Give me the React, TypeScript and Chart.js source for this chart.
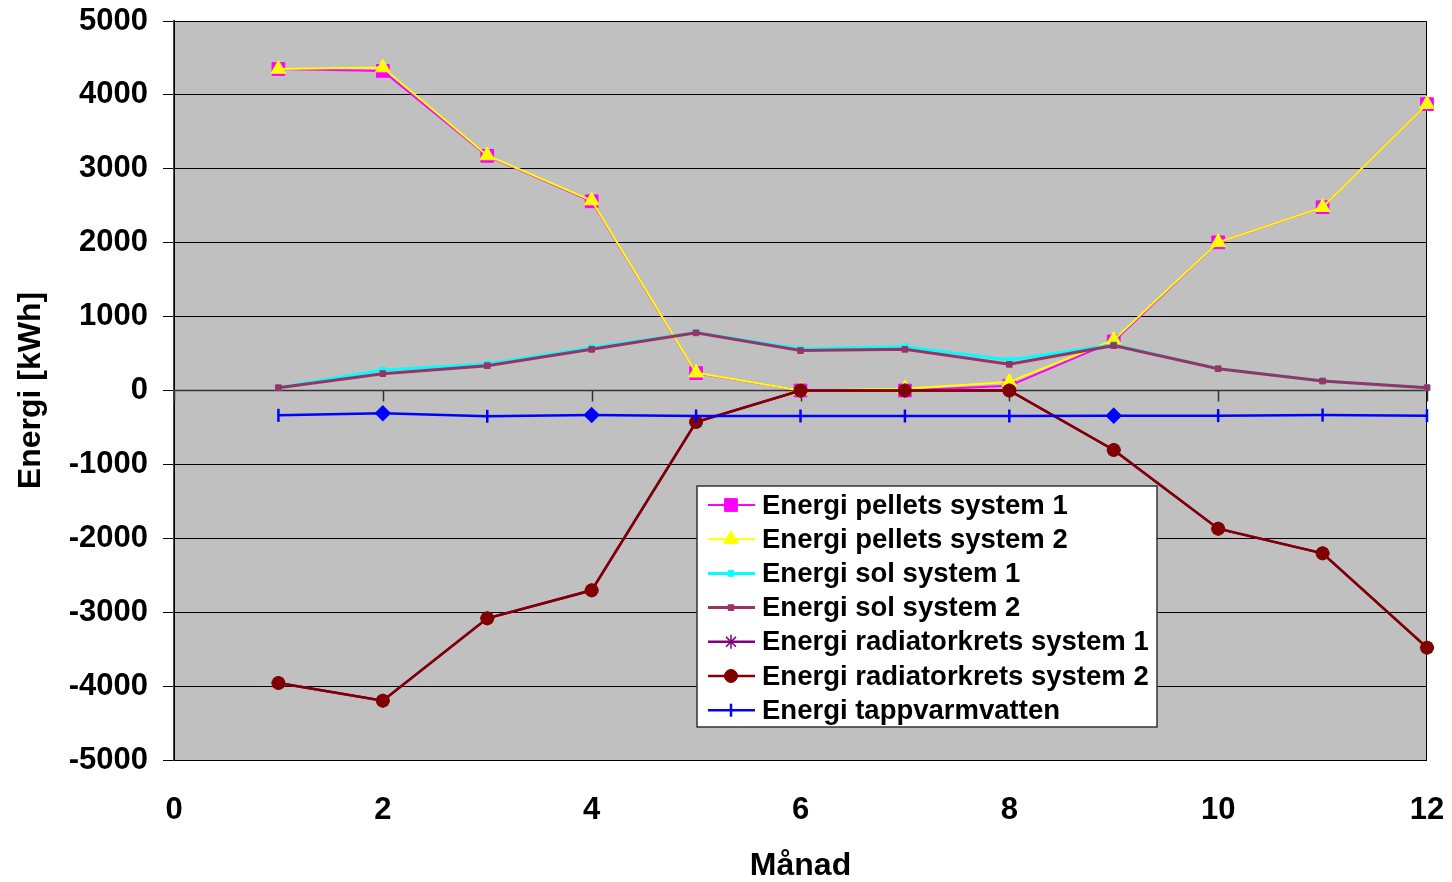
import React, { useEffect, useRef } from "react";
import { Chart, registerables } from "chart.js";
import { drawPoint } from "chart.js/helpers";

Chart.register(...registerables);

// ---- data ----
const months = [1, 2, 3, 4, 5, 6, 7, 8, 9, 10, 11, 12];
const pelletsSystem1 = [4350, 4325, 3175, 2560, 235, 0, 0, 65, 665, 2005, 2480, 3875];
const pelletsSystem2 = [4350, 4370, 3180, 2570, 240, 0, 25, 115, 685, 2005, 2480, 3875];
const solSystem1 = [38, 277, 359, 580, 785, 561, 593, 413, 620, 295, 128, 38];
const solSystem2 = [38, 228, 336, 557, 780, 540, 557, 354, 607, 295, 128, 38];
const radiatorSystem1 = [-3958, -4197, -3083, -2704, -426, 0, 0, 0, -805, -1870, -2203, -3480];
const radiatorSystem2 = [-3958, -4197, -3083, -2704, -426, 0, 0, 0, -805, -1870, -2203, -3480];
const tappvarmvatten = [-336, -309, -349, -332, -345, -345, -345, -345, -340, -340, -332, -340];
const tappMarkers = ["line", "rectRot", "line", "rectRot", "line", "line", "line", "line", "rectRot", "line", "line", "line"];

const seriesLabels = [
  "Energi pellets system 1",
  "Energi pellets system 2",
  "Energi sol system 1",
  "Energi sol system 2",
  "Energi radiatorkrets system 1",
  "Energi radiatorkrets system 2",
  "Energi tappvarmvatten",
];
const xMin = 0;
const xMax = 12;
const xStep = 2;
const yMin = -5000;
const yMax = 5000;
const yStep = 1000;
const xTitle = "Månad";
const yTitle = "Energi [kWh]";

const FONT = '"Liberation Sans", Arial, sans-serif';

const toPoints = (vals: number[]) => vals.map((v, i) => ({ x: months[i], y: v }));

const bgPlugin = {
  id: "bgPlugin",
  beforeDraw(chart: any) {
    const { ctx, chartArea: a } = chart;
    ctx.save();
    ctx.fillStyle = "#ffffff";
    ctx.fillRect(0, 0, chart.width, chart.height);
    ctx.fillStyle = "#C0C0C0";
    ctx.fillRect(a.left, a.top, a.right - a.left, a.bottom - a.top);
    ctx.restore();
  },
  beforeDatasetsDraw(chart: any) {
    const { ctx, chartArea: a, scales } = chart;
    const y0 = scales.y.getPixelForValue(0);
    ctx.save();
    ctx.strokeStyle = "#000000";
    ctx.lineWidth = 1;
    ctx.strokeRect(a.left + 0.5, a.top + 0.5, a.right - a.left - 1, a.bottom - a.top);
    ctx.strokeStyle = "#333333";
    ctx.lineWidth = 1.5;
    ctx.beginPath();
    ctx.moveTo(a.left, y0);
    ctx.lineTo(a.right, y0);
    for (let v = xMin; v <= xMax; v += xStep) {
      const px = Math.round(scales.x.getPixelForValue(v)) + 0.5;
      ctx.moveTo(px, y0);
      ctx.lineTo(px, y0 + 11);
    }
    ctx.stroke();
    ctx.restore();
  },
  afterDraw(chart: any) {
    const { ctx } = chart;
    const boxX = 697;
    const boxY = 486;
    const boxW = 460;
    const boxH = 241;
    ctx.save();
    ctx.fillStyle = "#ffffff";
    ctx.fillRect(boxX, boxY, boxW, boxH);
    ctx.strokeStyle = "#333333";
    ctx.lineWidth = 1.5;
    ctx.strokeRect(boxX, boxY, boxW, boxH);
    const rowH = 34.2;
    chart.data.datasets.forEach((ds: any, i: number) => {
      const cy = boxY + 19 + i * rowH;
      ctx.strokeStyle = ds.borderColor;
      ctx.lineWidth = ds.borderWidth;
      ctx.beginPath();
      ctx.moveTo(708, cy);
      ctx.lineTo(755, cy);
      ctx.stroke();
      const style = Array.isArray(ds.pointStyle) ? ds.pointStyle[0] : ds.pointStyle;
      ctx.fillStyle = ds.pointBackgroundColor;
      ctx.strokeStyle = ds.pointBorderColor;
      ctx.lineWidth = ds.pointBorderWidth;
      drawPoint(ctx, { pointStyle: style, rotation: ds.pointRotation || 0, radius: ds.pointRadius, borderWidth: ds.pointBorderWidth }, 731, cy);
      ctx.fillStyle = "#000000";
      ctx.font = `bold 27.5px ${FONT}`;
      ctx.textBaseline = "middle";
      ctx.textAlign = "left";
      ctx.fillText(seriesLabels[i], 762, cy + 1);
    });
    ctx.restore();
  },
};

export default function App() {
  const ref = useRef<HTMLCanvasElement>(null);
  useEffect(() => {
    if (!ref.current) return;
    const mk = (i: number, vals: number[], color: string, width: number, style: any, radius: number, extra: any = {}) => ({
      label: seriesLabels[i],
      data: toPoints(vals),
      borderColor: color,
      backgroundColor: color,
      borderWidth: width,
      pointStyle: style,
      pointRadius: radius,
      pointBackgroundColor: color,
      pointBorderColor: color,
      pointBorderWidth: 1,
      tension: 0,
      clip: false,
      order: 6 - i,
      ...extra,
    });
    const chart = new Chart(ref.current, {
      type: "line",
      data: {
        datasets: [
          mk(0, pelletsSystem1, "#FF00FF", 2, "rect", 9),
          mk(1, pelletsSystem2, "#FFFF00", 2, "triangle", 8.5),
          mk(2, solSystem1, "#00FFFF", 3, "rect", 4),
          mk(3, solSystem2, "#993366", 3, "rect", 4),
          mk(4, radiatorSystem1, "#800080", 2.5, "star", 7, { pointBorderWidth: 1.5 }),
          mk(5, radiatorSystem2, "#800000", 2.5, "circle", 6.5),
          mk(6, tappvarmvatten, "#0000FF", 2.5, tappMarkers, 6.5, { pointRotation: 90, pointBorderWidth: 2.5 }),
        ] as any,
      },
      options: {
        animation: false,
        responsive: false,
        maintainAspectRatio: false,
        layout: { padding: { left: 8, right: 25, top: 21, bottom: 0 } },
        plugins: { legend: { display: false }, tooltip: { enabled: false } },
        scales: {
          x: {
            type: "linear",
            min: xMin,
            max: xMax,
            ticks: { stepSize: xStep, autoSkip: false, maxRotation: 0, color: "#000", padding: 32, font: { family: FONT, size: 31, weight: "bold" }, callback: (v: any) => String(v) },
            grid: { display: false, drawTicks: false },
            border: { display: false },
            title: { display: true, text: xTitle, color: "#000", padding: { top: 4, bottom: -3 }, font: { family: FONT, size: 32, weight: "bold" } },
            afterFit: (s: any) => { s.height = 122; s.paddingLeft = 0; s.paddingRight = 0; },
          },
          y: {
            type: "linear",
            min: yMin,
            max: yMax,
            ticks: { stepSize: yStep, color: "#000", padding: 15, font: { family: FONT, size: 31, weight: "bold" }, callback: (v: any) => String(v) },
            grid: { color: "#000", lineWidth: 1, tickLength: 11, drawTicks: true },
            border: { display: true, color: "#444", width: 2 },
            title: { display: true, text: yTitle, color: "#000", padding: { top: 4, bottom: 4 }, font: { family: FONT, size: 32, weight: "bold" } },
            afterFit: (s: any) => { s.width = 166; s.paddingTop = 0; s.paddingBottom = 0; },
          },
        },
      } as any,
      plugins: [bgPlugin],
    });
    return () => chart.destroy();
  }, []);
  return (
    <div style={{ position: "fixed", left: 0, top: 0, width: 1452, height: 882, background: "#fff" }}>
      <canvas ref={ref} width={1452} height={882} style={{ width: 1452, height: 882, display: "block" }} />
    </div>
  );
}
